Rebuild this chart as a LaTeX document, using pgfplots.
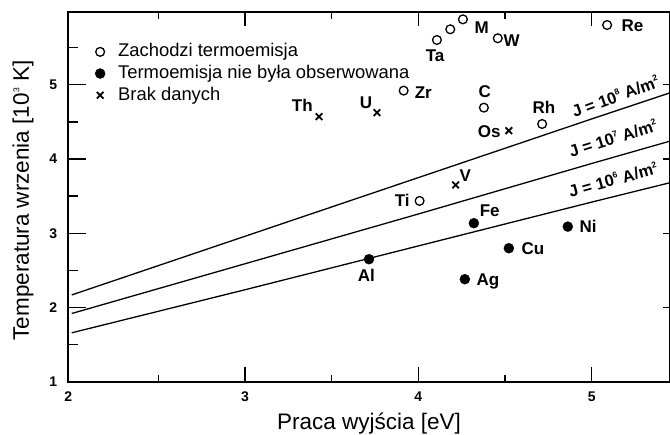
\documentclass[border=0pt]{standalone}
\usepackage{fontspec}
\setmainfont{Liberation Sans}
\usepackage{pgfplots}
\pgfplotsset{compat=1.18}

% small superscript in the text font
\newcommand{\up}[1]{\raisebox{0.42em}{\fontsize{8.5}{8.5}\selectfont #1}}

\begin{document}
\begin{tikzpicture}[
  lbl/.style={font=\fontsize{17}{17}\selectfont\bfseries, inner sep=0pt, anchor=base west},
  jl/.style={font=\fontsize{16.5}{16.5}\selectfont\bfseries, inner sep=0pt, anchor=base west},
  tl/.style={font=\fontsize{14}{14}\selectfont\bfseries, inner sep=0pt},
  tk/.style={black, line width=1.4pt},
]
\begin{axis}[
  scale only axis, width=601.7pt, height=370pt,
  xmin=1.98, xmax=5.45, ymin=1, ymax=5.98,
  clip=false,
  axis line style={line width=1.6pt},
  xtick=\empty, ytick=\empty,
  xlabel={Praca wyjścia [eV]},
  ylabel={Temperatura wrzenia [10\up{3} K]},
  label style={font=\fontsize{22.5}{22.5}\selectfont},
  every axis x label/.append style={at={(axis description cs:0.5,0)}, anchor=base, yshift=-48pt},
  every axis y label/.append style={at={(axis description cs:-0.0753,0.49)}, anchor=center},
  legend image code/.code={\draw[#1] plot coordinates {(0pt,0pt)};},
  legend cell align=left,
  legend style={at={(axis cs:2.134,5.567)}, anchor=north west, draw=none, fill=none,
    inner sep=0pt, row sep=3.7pt, column sep=13pt,
    font=\fontsize{18.4}{18.4}\selectfont,
    nodes={inner sep=0pt, text height=14pt, text depth=4pt}},
]
% thermoemission observed
\addplot[black, only marks, mark=o, mark size=4.4pt, mark options={line width=1.3pt}] coordinates {
  (5.089,5.805) (4.257,5.881) (4.184,5.747) (4.107,5.603) (4.458,5.626)
  (3.915,4.921) (4.378,4.692) (4.714,4.472) (4.007,3.436)
};
\addlegendentry{Zachodzi termoemisja}
% not observed
\addplot[black, fill=black, only marks, mark=*, mark size=5pt] coordinates {
  (4.320,3.136) (4.862,3.090) (4.522,2.799) (3.715,2.651) (4.268,2.382)
};
\addlegendentry{Termoemisja nie była obserwowana}
% no data
\addplot[black, only marks, mark=x, mark size=4.7pt, mark options={line width=1.8pt}] coordinates {
  (3.427,4.571) (3.761,4.625) (4.522,4.382) (4.215,3.651)
};
\addlegendentry{Brak danych}

% constant current density lines
\addplot[black, line width=1.3pt, forget plot] coordinates {
  (2,2.17) (3,2.96) (4,3.75) (5,4.54) (5.45,4.89)};
\addplot[black, line width=1.3pt, forget plot] coordinates {
  (2,1.92) (3,2.59) (4,3.26) (5,3.94) (5.45,4.24)};
\addplot[black, line width=1.3pt, forget plot] coordinates {
  (2,1.66) (3,2.24) (4,2.83) (5,3.42) (5.45,3.68)};

% ticks (inside), bottom and top
\pgfplotsinvokeforeach{3,4,5}{
  \draw[tk] (axis cs:#1,1) -- ++(0pt,15pt);
  \draw[tk] (axis cs:#1,5.98) -- ++(0pt,-14pt);
  \node[tl, anchor=north, yshift=-10pt] at (axis cs:#1,1) {#1};
}
\pgfplotsinvokeforeach{2.5,3.5,4.5}{
  \draw[tk] (axis cs:#1,1) -- ++(0pt,7pt);
  \draw[tk] (axis cs:#1,5.98) -- ++(0pt,-7pt);
}
\node[tl, anchor=north, yshift=-10pt] at (axis cs:1.98,1) {2};
% ticks left and right
\pgfplotsinvokeforeach{2,3,4,5}{
  \draw[tk] (axis cs:1.98,#1) -- ++(17.7pt,0pt);
  \draw[tk] (axis cs:5.45,#1) -- ++(-7pt,0pt);
}
\pgfplotsinvokeforeach{1.5,2.5,3.5,4.5,5.5}{
  \draw[tk] (axis cs:1.98,#1) -- ++(10pt,0pt);
}
\pgfplotsinvokeforeach{1,2,3,4,5}{
  \node[tl, anchor=east, xshift=-11pt] at (axis cs:1.98,#1) {#1};
}

\node[jl, rotate=20]   at (axis cs:4.900,4.553) {J = 10\up{8} A/m\up{2}};
\node[jl, rotate=17.5] at (axis cs:4.881,4.015) {J = 10\up{7} A/m\up{2}};
\node[jl, rotate=15.5] at (axis cs:4.877,3.476) {J = 10\up{6} A/m\up{2}};

\node[lbl] at (axis cs:5.171,5.711) {Re};
\node[lbl] at (axis cs:4.324,5.697) {M};
\node[lbl] at (axis cs:4.491,5.509) {W};
\node[lbl] at (axis cs:4.042,5.307) {Ta};
\node[lbl] at (axis cs:3.978,4.809) {Zr};
\node[lbl] at (axis cs:4.347,4.822) {C};
\node[lbl] at (axis cs:4.342,4.284) {Os};
\node[lbl] at (axis cs:4.658,4.607) {Rh};
\node[lbl] at (axis cs:3.269,4.634) {Th};
\node[lbl] at (axis cs:3.661,4.674) {U};
\node[lbl] at (axis cs:4.237,3.692) {V};
\node[lbl] at (axis cs:3.863,3.355) {Ti};
\node[lbl] at (axis cs:4.353,3.221) {Fe};
\node[lbl] at (axis cs:4.929,3.005) {Ni};
\node[lbl] at (axis cs:4.595,2.709) {Cu};
\node[lbl] at (axis cs:3.650,2.346) {Al};
\node[lbl] at (axis cs:4.335,2.299) {Ag};
\end{axis}
\pgfresetboundingbox
\path[use as bounding box] (-68.3pt,-53pt) rectangle (602pt,382pt);
\end{tikzpicture}
\end{document}
